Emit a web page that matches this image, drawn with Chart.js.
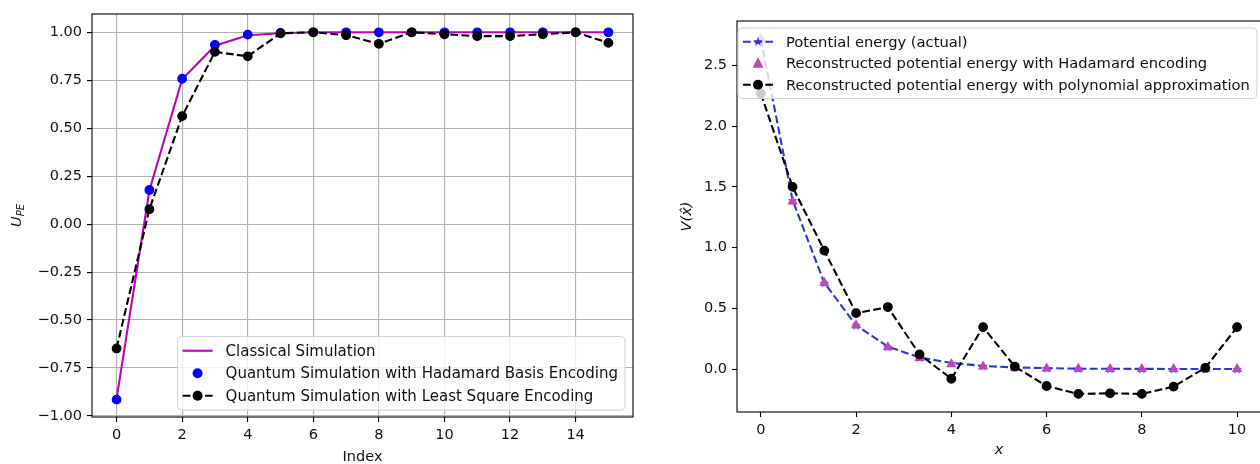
<!DOCTYPE html>
<html>
<head>
<meta charset="utf-8">
<script src="https://cdn.jsdelivr.net/npm/chart.js@4.4.1/dist/chart.umd.min.js"></script>
<style>
html, body { margin: 0; padding: 0; background: #fff; overflow: hidden; }
#wrap { position: relative; width: 1260px; height: 464px; overflow: hidden; }
#left { position: absolute; left: 0; top: 0; }
#right { position: absolute; left: 640px; top: 0; }
</style>
</head>
<body>
<div id="wrap">
  <canvas id="left" width="640" height="464"></canvas>
  <canvas id="right" width="627" height="464"></canvas>
</div>
<script>
// left panel: index 0..15
const indexes = [0, 1, 2, 3, 4, 5, 6, 7, 8, 9, 10, 11, 12, 13, 14, 15];
const classical = [-0.91, 0.175, 0.755, 0.93, 0.985, 0.995, 1.0, 1.0, 1.0, 1.0, 1.0, 1.0, 1.0, 1.0, 1.0, 1.0];
const hadamardBasis = [-0.915, 0.178, 0.758, 0.935, 0.988, 0.997, 1.0, 1.0, 1.0, 1.0, 1.0, 1.0, 1.0, 1.0, 1.0, 1.0];
const leastSquare = [-0.648, 0.078, 0.563, 0.898, 0.875, 0.995, 1.0, 0.985, 0.94, 1.0, 0.99, 0.98, 0.98, 0.99, 1.0, 0.945];
const leftXTicks = [0, 2, 4, 6, 8, 10, 12, 14];
const leftYTicks = [-1.0, -0.75, -0.5, -0.25, 0.0, 0.25, 0.5, 0.75, 1.0];

// right panel: x on 0..10
const xs = [0, 0.667, 1.333, 2, 2.667, 3.333, 4, 4.667, 5.333, 6, 6.667, 7.333, 8, 8.667, 9.333, 10];
const potActual = [2.72, 1.39, 0.71, 0.36, 0.185, 0.095, 0.05, 0.025, 0.013, 0.007, 0.003, 0.002, 0.001, 0.0005, 0.0003, 0.0001];
const potHadamard = [2.72, 1.38, 0.71, 0.36, 0.18, 0.09, 0.04, 0.02, 0.01, 0.005, 0.002, 0.001, 0.0, 0.0, 0.0, 0.0];
const potPoly = [2.27, 1.50, 0.975, 0.46, 0.51, 0.12, -0.08, 0.345, 0.02, -0.14, -0.205, -0.20, -0.205, -0.145, 0.01, 0.345];
const rightXTicks = [0, 2, 4, 6, 8, 10];
const rightYTicks = [0.0, 0.5, 1.0, 1.5, 2.0, 2.5];

const FONT = 'DejaVu Sans';
const pts = (xv, yv) => xv.map((x, i) => ({ x: x, y: yv[i] }));
const minus = s => s.replace('-', '\u2212');

// filled 5-point star for the "*" marker
function starImage(color) {
  const c = document.createElement('canvas');
  c.width = 12; c.height = 12;
  const g = c.getContext('2d');
  g.beginPath();
  for (let i = 0; i < 10; i++) {
    const r = i % 2 == 0 ? 5 : 2;
    const a = -Math.PI / 2 + i * Math.PI / 5;
    g.lineTo(6 + r * Math.cos(a), 6.5 + r * Math.sin(a));
  }
  g.closePath();
  g.fillStyle = color;
  g.fill();
  return c;
}
const star = starImage('#2a35e0');

// frame, legend inside the plot and axis labels
const decor = {
  id: 'decor',
  afterDraw(chart, args, opts) {
    const ctx = chart.ctx;
    const a = chart.chartArea;
    ctx.save();
    ctx.strokeStyle = '#000';
    ctx.lineWidth = 1.1;
    ctx.strokeRect(a.left, a.top, a.right - a.left, a.bottom - a.top);

    // legend
    const lf = opts.legendSize + 'px "' + FONT + '"';
    ctx.font = lf;
    let w = 0;
    opts.rows.forEach(r => { w = Math.max(w, ctx.measureText(r.label).width); });
    const step = opts.rowStep;
    const bw = w + 55, bh = opts.rows.length * step + 6;
    let bx, by;
    if (opts.loc == 'lower right') { bx = a.right - 8 - bw; by = a.bottom - 7 - bh; }
    else { bx = a.left + 1; by = a.top + 7; }
    ctx.beginPath();
    ctx.roundRect(bx, by, bw, bh, 4);
    ctx.fillStyle = 'rgba(255,255,255,0.8)';
    ctx.fill();
    ctx.strokeStyle = '#d0d0d0';
    ctx.lineWidth = 1;
    ctx.stroke();
    opts.rows.forEach((r, i) => {
      const cy = by + 3 + step / 2 + i * step;
      const hx = bx + 5;
      if (r.line) {
        ctx.beginPath();
        ctx.setLineDash(r.line.dash || []);
        ctx.strokeStyle = r.line.color;
        ctx.lineWidth = 2.1;
        ctx.moveTo(hx, cy);
        ctx.lineTo(hx + 30, cy);
        ctx.stroke();
        ctx.setLineDash([]);
      }
      if (r.marker == 'circle') {
        ctx.beginPath();
        ctx.arc(hx + 15, cy, 5, 0, Math.PI * 2);
        ctx.fillStyle = r.color;
        ctx.fill();
      } else if (r.marker == 'triangle') {
        ctx.beginPath();
        ctx.moveTo(hx + 15, cy - 6);
        ctx.lineTo(hx + 20.5, cy + 4.5);
        ctx.lineTo(hx + 9.5, cy + 4.5);
        ctx.closePath();
        ctx.fillStyle = r.color;
        ctx.fill();
      } else if (r.marker == 'star') {
        ctx.drawImage(star, hx + 9, cy - 6.5);
      }
      ctx.font = lf;
      ctx.fillStyle = '#111';
      ctx.textBaseline = 'middle';
      ctx.textAlign = 'left';
      ctx.fillText(r.label, bx + 48, cy + 1);
    });

    // axis titles
    const mx = (a.left + a.right) / 2, my = (a.top + a.bottom) / 2;
    ctx.fillStyle = '#111';
    ctx.textAlign = 'center';
    ctx.textBaseline = 'middle';
    ctx.font = (opts.xItalic ? 'italic ' : '') + '14.5px "' + FONT + '"';
    ctx.fillText(opts.xTitle, mx, opts.xTitleY);
    ctx.save();
    ctx.translate(opts.yTitleX, my);
    ctx.rotate(-Math.PI / 2);
    ctx.font = 'italic 14.5px "' + FONT + '"';
    if (opts.ySub) {
      const mw = ctx.measureText(opts.yTitle).width;
      ctx.font = 'italic 10px "' + FONT + '"';
      const sw = ctx.measureText(opts.ySub).width;
      const x0 = -(mw + sw) / 2;
      ctx.textAlign = 'left';
      ctx.font = 'italic 14.5px "' + FONT + '"';
      ctx.fillText(opts.yTitle, x0, 0);
      ctx.font = 'italic 10px "' + FONT + '"';
      ctx.fillText(opts.ySub, x0 + mw, 4);
    } else {
      ctx.fillText(opts.yTitle, 0, 0);
    }
    ctx.restore();
    ctx.restore();
  }
};

function axis(min, max, tickList, fmt, fit, grid) {
  return {
    type: 'linear',
    min: min,
    max: max,
    afterBuildTicks: s => { s.ticks = tickList.map(v => ({ value: v })); },
    afterFit: fit,
    border: { display: false },
    grid: grid,
    ticks: {
      font: { family: FONT, size: 14.5 },
      color: '#111',
      padding: 5,
      maxRotation: 0,
      autoSkip: false,
      callback: fmt
    }
  };
}

const leftGrid = { color: '#b0b0b0', lineWidth: 1.1, drawTicks: true, tickLength: 5, tickColor: '#000', tickWidth: 1.1 };
const rightGrid = { drawOnChartArea: false, drawTicks: true, tickLength: 5, tickColor: '#000', tickWidth: 1.1 };
const dash = [7.8, 3.4];

new Chart(document.getElementById('left'), {
  type: 'line',
  data: {
    datasets: [
      { label: 'Classical Simulation', data: pts(indexes, classical), borderColor: '#c000c0', borderWidth: 2.1, pointRadius: 0, order: 3 },
      { label: 'Quantum Simulation with Hadamard Basis Encoding', data: pts(indexes, hadamardBasis), showLine: false,
        pointRadius: 4.3, pointBorderWidth: 1.2, pointBackgroundColor: '#0000ff', pointBorderColor: '#0000ff', order: 2 },
      { label: 'Quantum Simulation with Least Square Encoding', data: pts(indexes, leastSquare), borderColor: '#000', borderWidth: 2.1, borderDash: dash,
        pointRadius: 4.3, pointBorderWidth: 1.2, pointBackgroundColor: '#000', pointBorderColor: '#000', order: 1 }
    ]
  },
  options: {
    responsive: false,
    animation: false,
    layout: { padding: { left: 0, top: 14, right: 7, bottom: 0 } },
    plugins: {
      legend: { display: false },
      tooltip: { enabled: false },
      decor: {
        loc: 'lower right', legendSize: 15, rowStep: 22.5,
        rows: [
          { label: 'Classical Simulation', line: { color: '#c000c0' } },
          { label: 'Quantum Simulation with Hadamard Basis Encoding', marker: 'circle', color: '#0000ff' },
          { label: 'Quantum Simulation with Least Square Encoding', line: { color: '#000', dash: dash }, marker: 'circle', color: '#000' }
        ],
        xTitle: 'Index', xTitleY: 457, yTitle: 'U', ySub: 'PE', yTitleX: 17
      }
    },
    scales: {
      x: axis(-0.75, 15.75, leftXTicks, v => String(v), s => { s.height = 47; }, leftGrid),
      y: axis(-1.0055, 1.0955, leftYTicks, v => minus(v.toFixed(2)), s => { s.width = 92; }, leftGrid)
    }
  },
  plugins: [decor]
});

new Chart(document.getElementById('right'), {
  type: 'line',
  data: {
    datasets: [
      { label: 'Potential energy (actual)', data: pts(xs, potActual), borderColor: '#2a35e0', borderWidth: 2.1, borderDash: dash,
        pointStyle: star, order: 3 },
      { label: 'Reconstructed potential energy with Hadamard encoding', data: pts(xs, potHadamard), showLine: false,
        pointStyle: 'triangle', pointRadius: 6, pointBorderWidth: 0, pointBackgroundColor: '#bf45bf', order: 2 },
      { label: 'Reconstructed potential energy with polynomial approximation', data: pts(xs, potPoly), borderColor: '#000', borderWidth: 2.1, borderDash: dash,
        pointRadius: 4.3, pointBorderWidth: 1.2, pointBackgroundColor: '#000', pointBorderColor: '#000', order: 1 }
    ]
  },
  options: {
    responsive: false,
    animation: false,
    layout: { padding: { left: 0, top: 21, right: 0, bottom: 0 } },
    plugins: {
      legend: { display: false },
      tooltip: { enabled: false },
      decor: {
        loc: 'upper left', legendSize: 14.7, rowStep: 21.5,
        rows: [
          { label: 'Potential energy (actual)', line: { color: '#2a35e0', dash: dash }, marker: 'star' },
          { label: 'Reconstructed potential energy with Hadamard encoding', marker: 'triangle', color: '#bf45bf' },
          { label: 'Reconstructed potential energy with polynomial approximation', line: { color: '#000', dash: dash }, marker: 'circle', color: '#000' }
        ],
        xTitle: 'x', xItalic: true, xTitleY: 450, yTitle: 'V(x\u0302)', yTitleX: 47
      }
    },
    scales: {
      x: axis(-0.5, 10.5, rightXTicks, v => String(v), s => { s.height = 52; }, rightGrid),
      y: axis(-0.354, 2.866, rightYTicks, v => minus(v.toFixed(1)), s => { s.width = 97; }, rightGrid)
    }
  },
  plugins: [decor]
});
</script>
</body>
</html>
